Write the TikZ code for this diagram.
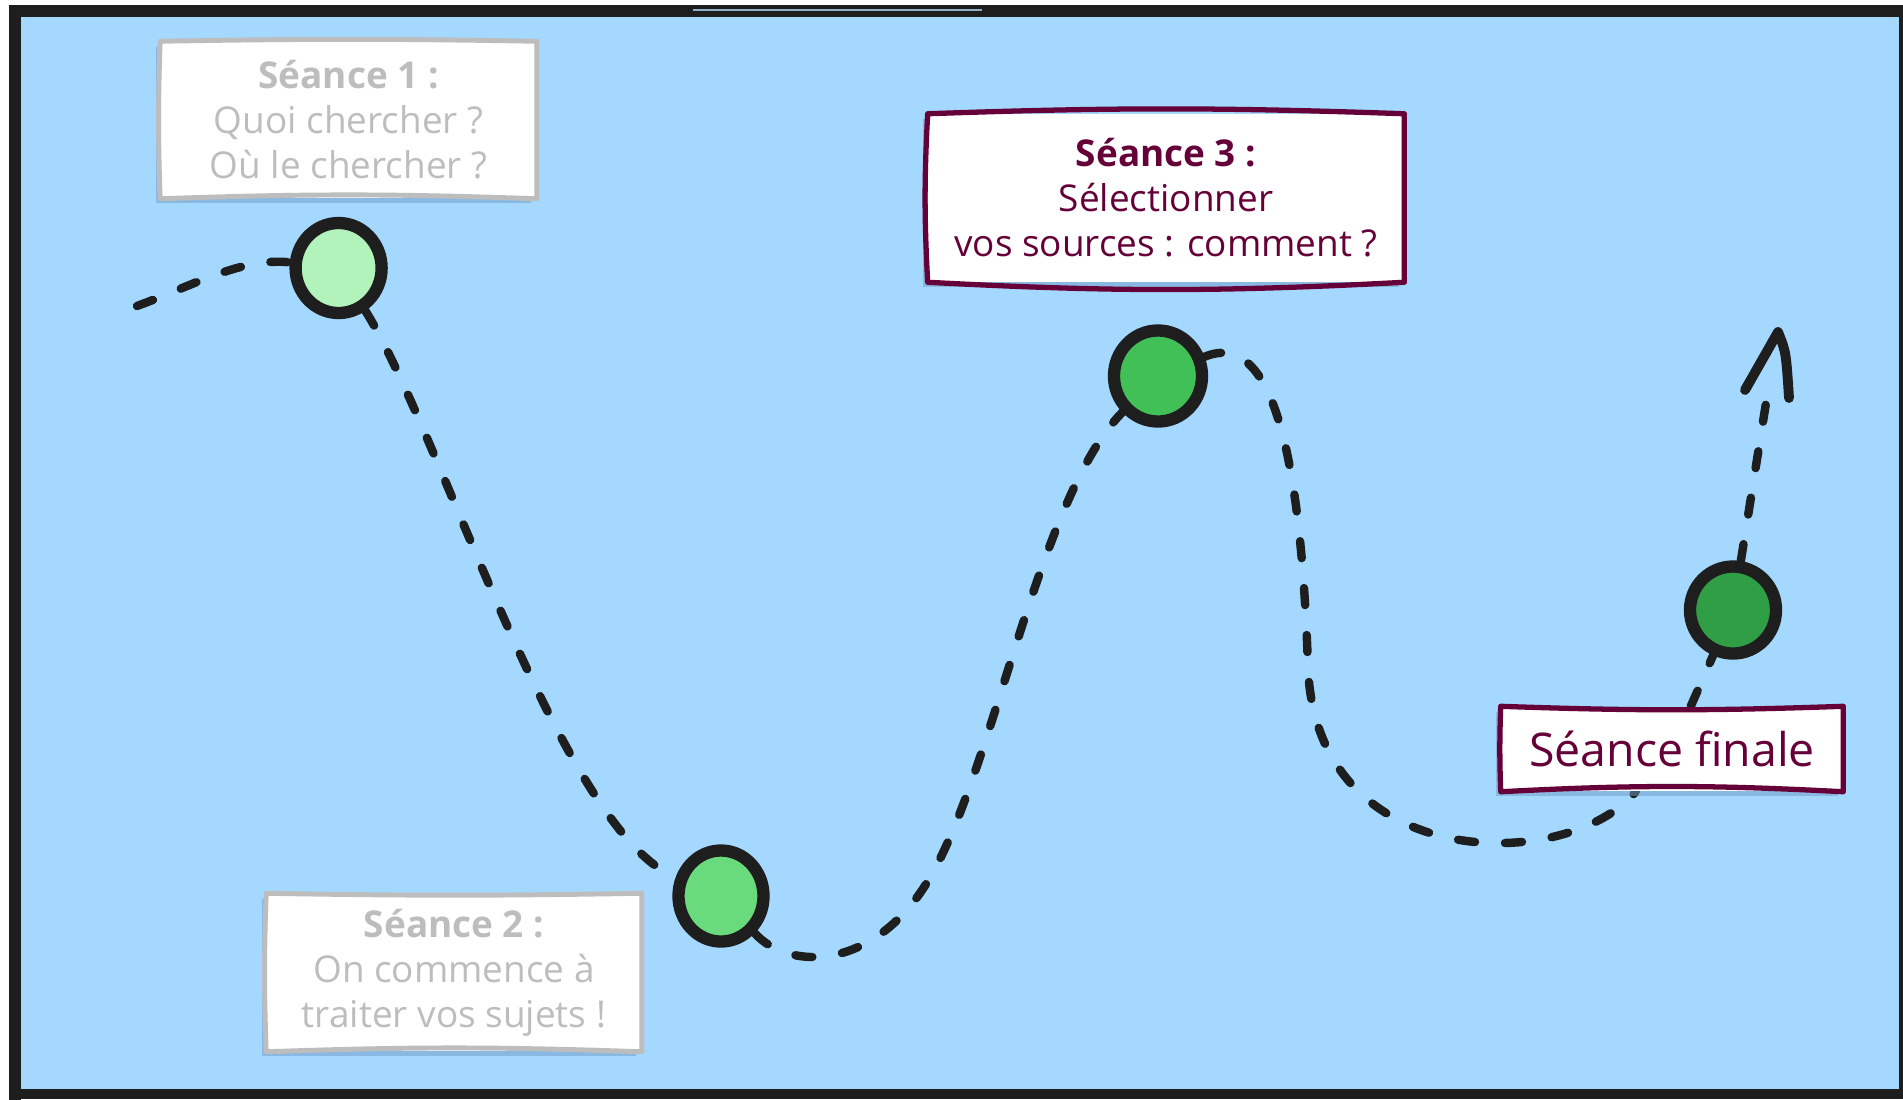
\documentclass[tikz,border=0pt]{standalone}
\usepackage{fontspec}
\setmainfont{Open Sans}
\usetikzlibrary{shapes.geometric,shadows,calc}
\definecolor{bgblue}{HTML}{A5D8FF}
\definecolor{ink}{HTML}{1E1E1E}
\definecolor{plum}{HTML}{660038}
\definecolor{pale}{HTML}{BDBDBD}
\definecolor{gA}{HTML}{B2F2BB}
\definecolor{gB}{HTML}{69DB7C}
\definecolor{gC}{HTML}{40C057}
\definecolor{gD}{HTML}{2F9E44}
\definecolor{shade}{HTML}{6E9CC6}
\definecolor{glint}{HTML}{8FB0C8}
\pgfdeclarelayer{front}
\pgfsetlayers{main,front}
\tikzset{
  dot/.style={ellipse, draw=ink, line width=3.5pt, inner sep=0pt},
  card/.style={rectangle, fill=white, inner sep=0pt, align=center,
    drop shadow={shadow xshift=-0.05cm, shadow yshift=-0.05cm, fill=shade, opacity=0.5}},
  greycard/.style={card, text=pale, font=\fontsize{10.5}{12.8}\selectfont},
  plumcard/.style={card, text=plum},
  greyline/.style={draw=pale, line width=1.4pt, line join=round},
  plumline/.style={draw=plum, line width=1.5pt, line join=round},
  trail/.style={draw=ink, line width=2.4pt, line cap=round, dash pattern=on 1.7mm off 3.0mm},
  tipline/.style={draw=ink, line width=2.8pt, line cap=round, line join=round},
}
\begin{document}
\begin{tikzpicture}[x=0.01cm,y=-0.01cm]
\useasboundingbox (0,0) rectangle (1903,1099);
\fill[white] (0,0) rectangle (1903,1099);
\fill[bgblue] (18,14) rectangle (1900,1092);
% frame
\draw[ink, line width=0.12cm] (15,1105) -- (15,11) -- (1910,11);
\fill[ink] (10,1089) rectangle (1903,1099);
\fill[ink] (1899,6) rectangle (1903,1099);
\draw[glint, line width=0.6pt] (693,10) -- (982,10);

\begin{pgfonlayer}{front}
% cards
\node[greycard, minimum width=3.75cm, minimum height=1.56cm] (b1) at (348.5,120)
  {\textbf{Séance 1 :}\\Quoi chercher ?\\Où le chercher ?};
\draw[greyline] (b1.north west) to[bend left=1] (b1.north east) -- (b1.south east)
  to[bend right=2] (b1.south west) to[bend left=2] cycle;

\node[greycard, minimum width=3.74cm, minimum height=1.57cm] (b2) at (454,972.5)
  {\textbf{Séance 2 :}\\On commence à\\traiter vos sujets !};
\draw[greyline] (b2.north west) to[bend right=1] (b2.north east) -- (b2.south east)
  to[bend right=2] (b2.south west) to[bend left=2] cycle;

\node[plumcard, font=\fontsize{10.5}{12.8}\selectfont, minimum width=4.75cm, minimum height=1.67cm] (b3) at (1166,198)
  {\textbf{Séance 3 :}\\Sélectionner\\vos sources : comment ?};
\draw[plumline] (b3.north west) to[bend left=2] (b3.north east) -- (b3.south east)
  to[bend left=3] (b3.south west) to[bend left=3] cycle;

\node[plumcard, font=\fontsize{13.2}{15}\selectfont, minimum width=3.41cm, minimum height=0.84cm] (fin) at (1672,749)
  {Séance finale};
\draw[plumline] (fin.north west) to[bend right=2] (fin.north east) -- (fin.south east)
  to[bend right=3] (fin.south west) to[bend left=2] cycle;

% milestones
\node[dot, fill=gA, minimum width=0.86cm, minimum height=0.90cm] (c1) at (338.6,268) {};
\node[dot, fill=gB, minimum width=0.85cm, minimum height=0.91cm] (c2) at (721,896) {};
\node[dot, fill=gC, minimum width=0.88cm, minimum height=0.91cm] (c3) at (1158,376) {};
\node[dot, fill=gD, minimum width=0.86cm, minimum height=0.87cm] (c4) at (1733,610) {};
\end{pgfonlayer}

% dashed trail
\coordinate (s) at (137,306);
\coordinate (m1) at (928.5,880);
\coordinate (m2) at (1308,667.5);
\coordinate (aend) at (1769,384);
\coordinate (tip) at (1778,332);
\coordinate (bl) at (1745,390);
\coordinate (br) at (1789,398);
\draw[trail] (s) .. controls (194,285) and (243,257) .. (c1);
\draw[trail] (c1) .. controls (440,430) and (560,830) .. (c2);
\draw[trail] (c2) .. controls (789,971) and (874,971) .. (m1) .. controls (994,771) and (1038,498) .. (c3);
\draw[trail] (c3) .. controls (1274,328) and (1301,461) .. (m2) .. controls (1316,874) and (1566,874) .. (fin);
\draw[trail] (fin) -- (c4);
\draw[trail] (c4) -- (aend);
\draw[tipline] (bl) -- (tip) .. controls (1786,352) .. (br);
\end{tikzpicture}
\end{document}
